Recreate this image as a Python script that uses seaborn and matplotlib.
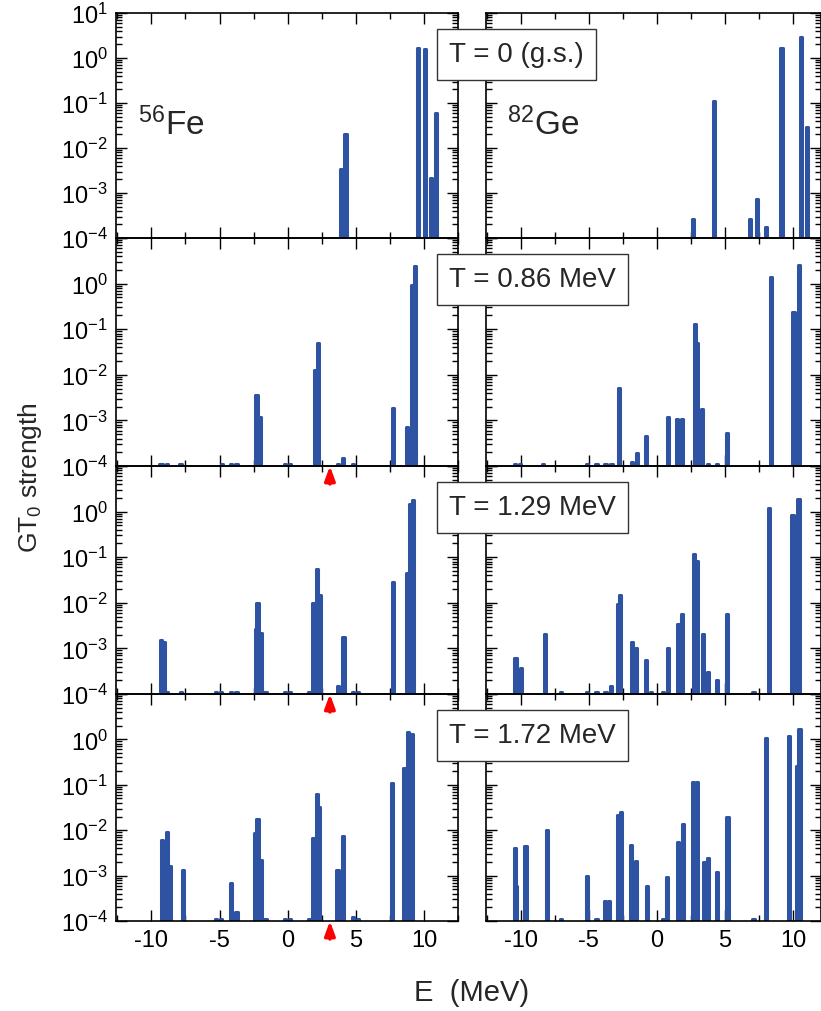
import numpy as np
import pandas as pd
import seaborn as sns
import matplotlib
matplotlib.use("Agg")
import matplotlib.pyplot as plt
from matplotlib.ticker import MultipleLocator, LogLocator, FuncFormatter

# GT0 strength, E in MeV
# 56Fe
fe_t0_e = [3.95, 4.25, 9.59, 10.08, 10.5, 10.87]
fe_t0_s = [3.5e-3, 0.021, 1.7, 1.55, 2.2e-3, 0.06]

fe_t1_e = [-9.4, -9.26, -8.84, -7.86, -4.82, -4.13, -3.76, -2.29, -2.03, -0.21, 0.15,
           1.99, 2.24, 3.71, 4.07, 4.81, 7.75, 8.78, 9.15, 9.32]
fe_t1_s = [1.1e-4, 1.1e-4, 1.1e-4, 1.1e-4, 1.1e-4, 1.1e-4, 1.1e-4, 3.6e-3, 1.2e-3, 1.1e-4, 1.1e-4,
           0.013, 0.05, 1.1e-4, 1.5e-4, 1.1e-4, 1.9e-3, 7e-4, 0.93, 2.45]

fe_t2_e = [-9.3, -9.1, -8.85, -7.8, -5.24, -4.87, -4.13, -3.76, -2.35, -2.22, -1.95, -1.63,
           -0.21, 0.15, 1.57, 1.87, 2.16, 2.34, 3.68, 4.1, 4.81, 5.18, 7.75, 8.73, 8.98, 9.22]
fe_t2_s = [1.5e-3, 1.4e-3, 1.1e-4, 1.1e-4, 1.1e-4, 1.1e-4, 1.1e-4, 1.1e-4, 2.7e-3, 9.8e-3, 2.2e-3, 1.1e-4,
           1.1e-4, 1.1e-4, 1.1e-4, 0.01, 0.055, 0.015, 1.5e-4, 1.8e-3, 1.1e-4, 1.1e-4, 0.028, 0.044, 1.46, 1.8]

fe_t3_e = [-9.21, -8.87, -8.65, -7.71, -5.24, -4.87, -4.13, -3.76, -2.37, -2.22, -1.95, -1.63,
           -0.21, 0.15, 1.57, 1.87, 2.16, 2.31, 3.66, 4.07, 4.81, 5.18, 7.68, 8.56, 8.81, 9.15]
fe_t3_s = [6.2e-3, 9e-3, 1.65e-3, 1.3e-3, 1.1e-4, 1.1e-4, 7e-4, 1.6e-4, 8.7e-3, 0.018, 2.2e-3, 1.1e-4,
           1.1e-4, 1.1e-4, 1.1e-4, 6.9e-3, 0.063, 0.032, 1.35e-3, 7.6e-3, 1.2e-4, 1.1e-4, 0.108, 0.24, 1.48, 1.3]

# 82Ge
ge_t0_e = [2.67, 4.17, 6.85, 7.36, 8.04, 9.15, 10.6, 11.0]
ge_t0_s = [2.6e-4, 0.11, 2.7e-4, 7.5e-4, 1.8e-4, 1.7, 2.9, 0.029]

ge_t1_e = [-10.43, -10.07, -8.35, -5.16, -4.43, -3.77, -3.33, -2.79, -1.85, -1.49, -0.8, 0.82,
           1.48, 1.87, 2.8, 2.95, 3.34, 3.78, 4.4, 5.13, 8.37, 10.03, 10.18, 10.45]
ge_t1_s = [1.1e-4, 1.1e-4, 1.1e-4, 1.1e-4, 1.1e-4, 1.1e-4, 1.1e-4, 5.1e-3, 1.2e-4, 1.9e-4, 4.6e-4, 1.2e-3,
           1.1e-3, 1.1e-3, 0.13, 0.05, 1.8e-3, 1.1e-4, 1.1e-4, 5.2e-4, 1.43, 0.24, 0.08, 2.55]

ge_t2_e = [-10.38, -9.99, -8.2, -7.07, -5.16, -4.43, -3.77, -3.4, -2.88, -2.71, -1.85, -1.54, -0.8,
           -0.43, 0.47, 0.82, 1.53, 1.87, 2.7, 2.92, 3.41, 3.78, 4.42, 5.15, 7.09, 8.22, 9.96, 10.1, 10.4]
ge_t2_s = [6.3e-4, 3.8e-4, 2.1e-3, 1.1e-4, 1.1e-4, 1.1e-4, 1.1e-4, 1.5e-4, 9.3e-3, 0.015, 1.4e-3, 1.0e-3, 5.5e-4,
           1.1e-4, 1.1e-4, 1.0e-3, 3.4e-3, 5.8e-3, 0.12, 0.083, 2.1e-3, 3e-4, 2e-4, 5.6e-3, 1.1e-4, 1.2, 0.83, 0.35, 1.9]

ge_t3_e = [-10.43, -10.33, -9.65, -8.06, -7.07, -5.16, -4.43, -3.79, -3.5, -2.84, -2.64, -1.88, -1.56,
           -0.75, 0.47, 0.77, 1.57, 1.9, 2.68, 2.92, 3.46, 3.78, 4.42, 5.18, 7.09, 8.03, 9.69, 10.28, 10.47]
ge_t3_s = [4.1e-3, 6e-4, 4.4e-3, 0.0102, 1.1e-4, 9.6e-4, 1.1e-4, 2.7e-4, 2.7e-4, 0.0216, 0.025, 4.7e-3, 2.1e-3,
           5.8e-4, 1.1e-4, 9.2e-4, 5.4e-3, 0.0138, 0.117, 0.115, 2.0e-3, 2.5e-3, 1.2e-3, 0.02, 1.1e-4, 1.05, 1.2, 0.26, 1.7]

temp_labels = ["T = 0 (g.s.)", "T = 0.86 MeV", "T = 1.29 MeV", "T = 1.72 MeV"]
nuclei = [r"$^{56}$Fe", r"$^{82}$Ge"]
arrow_E = 3.1  # red marker on the 56Fe panels at finite T

panels = {
    (0, 0): (fe_t0_e, fe_t0_s), (1, 0): (fe_t1_e, fe_t1_s),
    (2, 0): (fe_t2_e, fe_t2_s), (3, 0): (fe_t3_e, fe_t3_s),
    (0, 1): (ge_t0_e, ge_t0_s), (1, 1): (ge_t1_e, ge_t1_s),
    (2, 1): (ge_t2_e, ge_t2_s), (3, 1): (ge_t3_e, ge_t3_s),
}
frames = []
for (r, c), (e, s) in panels.items():
    frames.append(pd.DataFrame({"E": e, "S": s, "row": r, "col": c}))
df = pd.concat(frames, ignore_index=True)

sns.set_style("ticks")
plt.rcParams["font.family"] = ["Liberation Sans", "DejaVu Sans"]
plt.rcParams["mathtext.default"] = "regular"
plt.rcParams["axes.unicode_minus"] = False

blue = "#2f53a3"
bar_w = 0.16  # MeV, the thick rounded edge adds the rest

fig = plt.figure(figsize=(8.21, 10.12), dpi=100)
W, H = 821, 1012
col_px = [(116, 458), (486, 821)]
row_px = [(14, 239), (239, 467), (467, 695), (695, 922)]
xlims = [(-12.6, 12.5), (-12.55, 12.05)]


def ylabel_fmt(first_row):
    def f(v, pos):
        p = int(round(np.log10(v)))
        if p > 0 and not first_row:
            return ""
        return "$10^{%d}$" % p
    return f


for r, (top, bot) in enumerate(row_px):
    for c, (x0, x1) in enumerate(col_px):
        ax = fig.add_axes([x0 / W, 1 - bot / H, (x1 - x0) / W, (bot - top) / H])
        ax.set_facecolor("none")
        ax.set_yscale("log")
        sub = df[(df.row == r) & (df.col == c)]
        step = np.diff(np.unique(sub.E)).min()
        sns.barplot(data=sub, x="E", y="S", native_scale=True, width=bar_w / step,
                    color=blue, saturation=1, errorbar=None, edgecolor=blue,
                    linewidth=2.2, joinstyle="round", ax=ax)
        ax.set_xlabel("")
        ax.set_ylabel("")
        ax.set_xlim(xlims[c])
        ax.set_ylim(1e-4, 10)
        ax.xaxis.set_major_locator(MultipleLocator(5))
        ax.xaxis.set_minor_locator(MultipleLocator(2.5))
        ax.yaxis.set_major_locator(LogLocator(base=10, numticks=10))
        ax.yaxis.set_minor_locator(LogLocator(base=10, subs=np.arange(2, 10), numticks=10))
        ax.yaxis.set_major_formatter(FuncFormatter(ylabel_fmt(r == 0)))
        ax.tick_params(which="both", direction="in", top=True, right=True,
                       width=1, colors="black", labelsize=17, pad=6)
        ax.tick_params(which="major", length=8)
        ax.tick_params(which="minor", length=4)
        if r < 3:
            ax.tick_params(labelbottom=False)
        if c == 1:
            ax.tick_params(labelleft=False)
        for sp in ax.spines.values():
            sp.set_linewidth(1.2)
            sp.set_color("black")
        if r == 0:
            ax.text(0.064, 0.462, nuclei[c], transform=ax.transAxes,
                    fontsize=24, va="baseline", ha="left")
        if c == 0 and r > 0:
            ax.annotate("", xy=(arrow_E, 0), xycoords=("data", "axes fraction"),
                        xytext=(0, -18), textcoords="offset pixels",
                        arrowprops=dict(arrowstyle="-|>,head_length=0.6,head_width=0.22",
                                        color="red", lw=2.5, shrinkA=0, shrinkB=0,
                                        mutation_scale=14),
                        annotation_clip=False)

# temperature boxes straddle both columns
for r, (top, bot) in enumerate(row_px):
    fig.text(449 / W, 1 - (top + 41) / H, temp_labels[r], fontsize=20,
             ha="left", va="center",
             bbox=dict(boxstyle="square,pad=0.45", fc="white", ec="#333333", lw=1.0))

fig.text(30 / W, 1 - 478 / H, r"GT$_0$ strength", rotation=90, fontsize=19,
         ha="center", va="center")
fig.text(472 / W, 1 - 993 / H, "E  (MeV)", fontsize=21, ha="center", va="center")

fig.savefig("out.png", dpi=100, facecolor="white")
